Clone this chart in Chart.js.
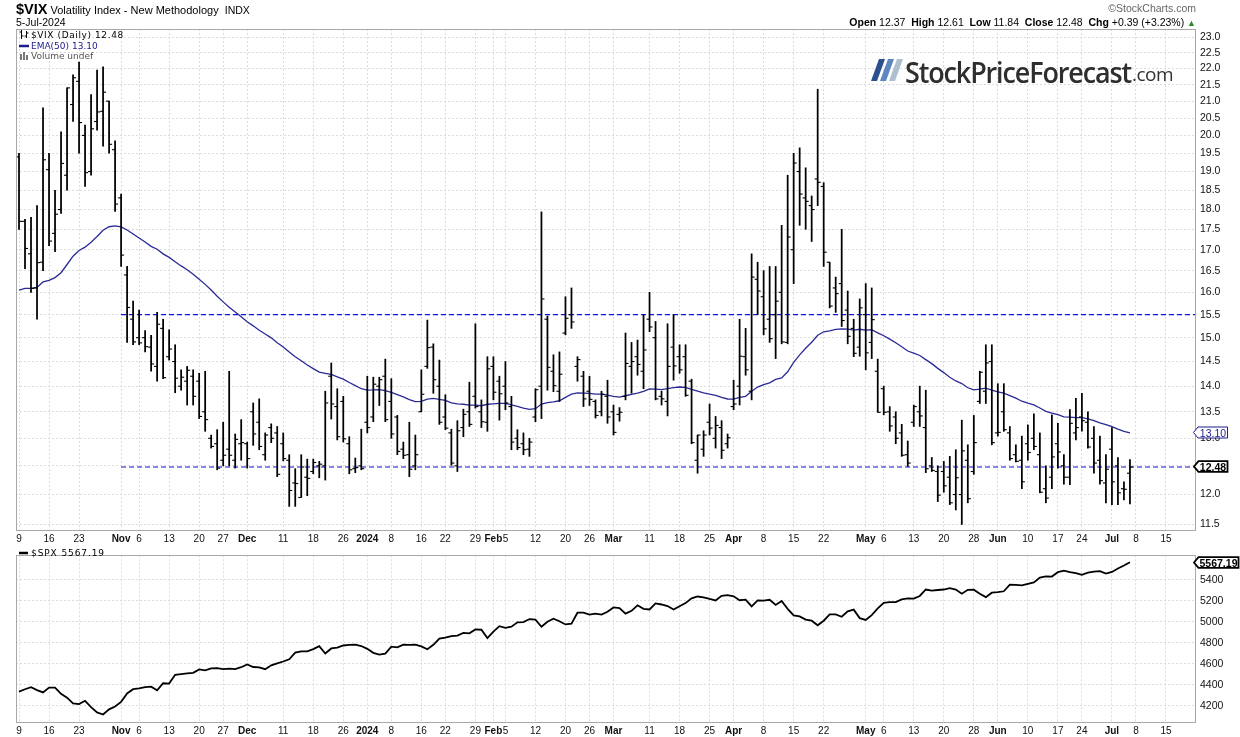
<!DOCTYPE html>
<html>
<head>
<meta charset="utf-8">
<script src="https://cdn.jsdelivr.net/npm/chart.js@4.4.1/dist/chart.umd.min.js"></script>
<style>
  body { margin: 0; background: #fff; width: 1240px; height: 737px; overflow: hidden; position: relative;
         font-family: "Liberation Sans", Arial, sans-serif; color: #000; }
  canvas { position: absolute; left: 0; }
  #c1 { top: 0; }
  #c2 { top: 545px; }
  .abs { position: absolute; white-space: nowrap; }
  #title { left: 16px; top: 1px; font-size: 11px; }
  #title b { font-size: 14.5px; }
  #date { left: 16px; top: 16px; font-size: 10.5px; }
  #sc { right: 44px; top: 2px; font-size: 10.5px; color: #666; }
  #ohlc { right: 44px; top: 16px; font-size: 10.5px; }
  #ohlc .up { color: #2a8a2a; font-size: 9px; }
  .leg { left: 19px; font-family: "DejaVu Sans", sans-serif; font-size: 9px; line-height: 10px; }
  .leg svg { vertical-align: -1px; margin-right: 2px; }
  #leg1 { top: 30px; letter-spacing: 0.6px; }
  #leg2 { top: 41px; color: #1c1c8c; }
  #leg3 { top: 51px; color: #555; }
  #leg4 { top: 548px; letter-spacing: 0.9px; }
  #logo { left: 871px; top: 56px; height: 30px; }
  #logoText { position: absolute; left: 34px; top: -4px; font-family: "Open Sans", sans-serif; font-weight: 600;
              font-size: 29px; letter-spacing: -1.2px; color: #2e2e2e; transform-origin: 0 0; }
  #logoCom { position: absolute; left: 261px; top: 5px; font-family: "Open Sans", sans-serif; font-size: 19px;
             color: #333; letter-spacing: -0.5px; }
  .tag { position: absolute; left: 1193px; }
</style>
</head>
<body>
<canvas id="c1" width="1240" height="546"></canvas>
<canvas id="c2" width="1240" height="192"></canvas>

<div id="title" class="abs"><b>$VIX</b> Volatility Index - New Methodology &nbsp;<span style="font-size:10.5px">INDX</span></div>
<div id="date" class="abs">5-Jul-2024</div>
<div id="sc" class="abs">&copy;StockCharts.com</div>
<div id="ohlc" class="abs"><b>Open</b> 12.37 &nbsp;<b>High</b> 12.61 &nbsp;<b>Low</b> 11.84 &nbsp;<b>Close</b> 12.48 &nbsp;<b>Chg</b> +0.39 (+3.23%) <span class="up">&#9650;</span></div>

<div id="leg1" class="abs leg"><svg width="10" height="9"><path d="M2.5 0V9M0.5 2H2.5M2.5 6H4.5M7.5 1V8M5.5 6H7.5M7.5 3H9.5" stroke="#000" stroke-width="1" fill="none"/></svg>$VIX (Daily) 12.48</div>
<div id="leg2" class="abs leg"><svg width="10" height="9"><path d="M0 5H10" stroke="#1c1c8c" stroke-width="2.5"/></svg>EMA(50) 13.10</div>
<div id="leg3" class="abs leg"><svg width="10" height="9"><path d="M1 3h2v6h-2zM4 1h2v8h-2zM7 4h2v5h-2z" fill="#777"/></svg>Volume undef</div>
<div id="leg4" class="abs leg"><svg width="10" height="9"><path d="M0 5H9" stroke="#000" stroke-width="2.5"/></svg>$SPX 5567.19</div>

<div id="logo" class="abs">
  <svg width="32" height="24" style="position:absolute;left:0;top:3px">
    <polygon points="8,0 14,0 6,22 0,22" fill="#2c4f8f"/>
    <polygon points="17,0 23,0 15,22 9,22" fill="#5f86c0"/>
    <polygon points="26,0 32,0 24,22 18,22" fill="#aebfd0"/>
  </svg>
  <span id="logoText">StockPriceForecast</span>
  <span id="logoCom">.com</span>
</div>

<svg id="tagEma" class="tag" width="36" height="13">
  <polygon points="0.5,6.5 5,1 34.5,1 34.5,12 5,12" fill="#fff" stroke="#1c1c8c" stroke-width="1"/>
  <text x="20" y="10.5" text-anchor="middle" font-family="Liberation Sans, Arial" font-size="10.5" fill="#1c1c8c">13.10</text>
</svg>
<svg id="tagClose" class="tag" width="36" height="13">
  <polygon points="1,6.5 5.5,1.2 34.5,1.2 34.5,11.8 5.5,11.8" fill="#fff" stroke="#000" stroke-width="1.8"/>
  <text x="20" y="10.5" text-anchor="middle" font-family="Liberation Sans, Arial" font-size="10.5" font-weight="bold" fill="#000">12.48</text>
</svg>
<svg id="tagSpx" class="tag" width="47" height="13">
  <polygon points="1,6.5 5.5,1.2 45.5,1.2 45.5,11.8 5.5,11.8" fill="#fff" stroke="#000" stroke-width="1.8"/>
  <text x="25.5" y="10.5" text-anchor="middle" font-family="Liberation Sans, Arial" font-size="10.5" font-weight="bold" fill="#000">5567.19</text>
</svg>

<script>
const FONT = '"Liberation Sans", Arial, sans-serif';

// trading calendar (index axis)
const holidays = ['2023-11-23', '2023-12-25', '2024-01-01', '2024-01-15', '2024-02-19',
                  '2024-03-29', '2024-05-27', '2024-06-19', '2024-07-04'];
function tradingDays(from, to) {
    const out = [];
    const d = new Date(from + 'T12:00:00Z');
    const end = new Date(to + 'T12:00:00Z');
    while (d <= end) {
        const s = d.toISOString().slice(0, 10);
        const wd = d.getUTCDay();
        if (wd !== 0 && wd !== 6 && !holidays.includes(s)) out.push(s);
        d.setUTCDate(d.getUTCDate() + 1);
    }
    return out;
}
const days = tradingDays('2023-10-09', '2024-07-22');

const tickLabels = [
    ['2023-10-09', '9'], ['2023-10-16', '16'], ['2023-10-23', '23'], ['2023-11-01', 'Nov'], ['2023-11-06', '6'],
    ['2023-11-13', '13'], ['2023-11-20', '20'], ['2023-11-27', '27'], ['2023-12-01', 'Dec'], ['2023-12-11', '11'],
    ['2023-12-18', '18'], ['2023-12-26', '26'], ['2024-01-02', '2024'], ['2024-01-08', '8'], ['2024-01-16', '16'],
    ['2024-01-22', '22'], ['2024-01-29', '29'], ['2024-02-01', 'Feb'], ['2024-02-05', '5'], ['2024-02-12', '12'],
    ['2024-02-20', '20'], ['2024-02-26', '26'], ['2024-03-01', 'Mar'], ['2024-03-11', '11'], ['2024-03-18', '18'],
    ['2024-03-25', '25'], ['2024-04-01', 'Apr'], ['2024-04-08', '8'], ['2024-04-15', '15'], ['2024-04-22', '22'],
    ['2024-05-01', 'May'], ['2024-05-06', '6'], ['2024-05-13', '13'], ['2024-05-20', '20'], ['2024-05-28', '28'],
    ['2024-06-03', 'Jun'], ['2024-06-10', '10'], ['2024-06-17', '17'], ['2024-06-24', '24'], ['2024-07-01', 'Jul'],
    ['2024-07-08', '8'], ['2024-07-15', '15']
];

const vixTicks = [11.5, 12.0, 12.5, 13.0, 13.5, 14.0, 14.5, 15.0, 15.5, 16.0, 16.5, 17.0,
                  17.5, 18.0, 18.5, 19.0, 19.5, 20.0, 20.5, 21.0, 21.5, 22.0, 22.5, 23.0];
const spxTicks = [4200, 4400, 4600, 4800, 5000, 5200, 5400];

// $VIX daily bars, 9-Oct-2023 .. 5-Jul-2024
const vixOpen = [
    19.40, 17.70, 16.90, 16.10, 16.70, 19.05, 17.40, 18.00, 18.90, 20.90,
    21.60, 20.00, 19.00, 20.40, 20.70, 21.00, 19.60, 18.30, 16.40, 15.40,
    15.00, 15.00, 14.80, 14.40, 15.20, 14.60, 14.50, 14.00, 14.10, 14.20,
    14.10, 13.50, 13.00, 12.90, 12.60, 12.80, 12.60, 12.90, 12.90, 13.50,
    13.30, 12.70, 13.20, 13.10, 12.90, 12.60, 12.20, 11.95, 12.30, 12.40,
    12.50, 12.50, 14.20, 13.60, 13.70, 12.90, 12.45, 12.50, 13.30, 13.40,
    14.00, 14.20, 13.70, 13.40, 12.80, 12.70, 12.50, 13.50, 14.40, 14.80,
    14.00, 13.40, 13.10, 12.50, 13.20, 13.50, 13.80, 13.50, 13.30, 14.40,
    14.10, 14.00, 13.60, 13.00, 12.90, 12.80, 13.40, 14.00, 15.40, 14.30,
    13.90, 15.10, 15.50, 14.40, 14.20, 13.90, 13.70, 13.50, 13.80, 13.50,
    13.45, 13.80, 14.40, 14.60, 14.30, 15.40, 15.00, 13.80, 13.70, 14.80,
    14.60, 14.60, 14.10, 12.60, 12.80, 13.30, 13.00, 13.20, 12.90, 13.60,
    14.00, 14.60, 13.90, 16.30, 15.90, 15.40, 15.50, 16.00, 14.90, 17.00,
    19.00, 18.30, 18.10, 18.80, 18.60, 16.70, 16.10, 16.20, 15.60, 15.20,
    14.80, 15.50, 14.90, 14.30, 13.95, 13.50, 13.40, 13.10, 12.70, 13.30,
    13.50, 13.20, 12.50, 12.40, 12.40, 12.30, 12.00, 12.00, 12.60, 12.40,
    13.70, 13.90, 14.50, 13.10, 13.50, 13.10, 12.70, 12.60, 12.90, 13.00,
    12.70, 12.10, 12.30, 12.90, 12.50, 12.30, 13.10, 13.40, 13.30, 13.00,
    12.60, 12.20, 12.80, 12.50, 12.10, 12.37
];
const vixHigh = [
    19.50, 17.75, 17.80, 18.10, 20.80, 19.50, 18.50, 20.10, 21.40, 21.80,
    22.20, 20.30, 21.20, 21.95, 22.05, 21.00, 19.85, 18.40, 16.60, 15.80,
    15.60, 15.15, 15.05, 15.55, 15.40, 15.17, 14.85, 14.33, 14.40, 14.33,
    14.26, 14.30, 13.06, 13.16, 13.30, 14.30, 13.08, 13.35, 12.93, 13.67,
    13.75, 13.10, 13.27, 13.22, 13.10, 12.70, 12.45, 12.70, 12.62, 12.62,
    12.58, 13.90, 14.47, 13.95, 13.80, 13.03, 12.64, 13.17, 14.20, 14.18,
    14.18, 14.55, 14.15, 13.43, 12.93, 13.30, 13.06, 14.33, 15.38, 14.87,
    14.53, 13.83, 13.17, 13.33, 13.55, 14.08, 15.30, 13.73, 14.60, 14.60,
    14.20, 14.50, 13.80, 13.16, 13.10, 13.00, 13.95, 17.94, 15.47, 14.64,
    14.70, 15.90, 16.10, 14.60, 14.30, 14.20, 13.73, 13.90, 14.12, 13.63,
    13.58, 15.10, 14.90, 14.95, 15.50, 16.00, 15.35, 13.90, 15.30, 15.50,
    14.85, 14.85, 14.14, 13.06, 13.14, 13.65, 13.41, 13.33, 13.08, 14.12,
    15.40, 15.20, 16.90, 16.70, 16.50, 16.60, 16.60, 17.60, 18.90, 19.50,
    19.65, 19.10, 18.35, 21.36, 18.70, 16.70, 16.35, 17.50, 16.03, 15.40,
    15.85, 16.20, 16.10, 14.55, 14.00, 13.60, 13.50, 13.26, 12.95, 13.63,
    14.00, 13.92, 12.65, 12.50, 12.58, 12.67, 12.79, 13.34, 12.88, 13.43,
    14.30, 14.85, 14.85, 14.05, 14.05, 13.22, 12.88, 13.04, 13.25, 13.46,
    13.10, 12.50, 13.44, 13.28, 12.70, 13.54, 13.76, 13.86, 13.50, 13.22,
    13.04, 12.70, 13.20, 12.65, 12.22, 12.61
];
const vixLow = [
    17.50, 16.55, 16.00, 15.40, 16.50, 17.10, 16.95, 17.90, 18.50, 20.40,
    19.50, 18.60, 18.90, 20.15, 19.70, 19.50, 17.95, 16.60, 14.90, 14.85,
    14.85, 14.70, 14.30, 14.10, 14.15, 14.53, 13.87, 13.92, 13.63, 13.63,
    13.37, 13.13, 12.82, 12.43, 12.50, 12.50, 12.46, 12.60, 12.46, 12.87,
    12.79, 12.60, 12.92, 12.31, 12.59, 11.80, 11.80, 11.95, 11.98, 12.36,
    12.29, 12.25, 13.36, 12.97, 12.93, 12.36, 12.38, 12.43, 13.10, 13.31,
    13.62, 13.31, 13.00, 12.70, 12.63, 12.31, 12.43, 13.50, 14.36, 13.86,
    13.26, 13.16, 12.51, 12.40, 13.03, 13.22, 13.57, 13.20, 13.13, 13.73,
    13.34, 13.54, 12.79, 12.79, 12.70, 12.67, 13.31, 13.37, 13.92, 13.89,
    13.70, 15.06, 15.20, 14.10, 13.60, 13.62, 13.38, 13.42, 13.28, 13.06,
    13.32, 13.73, 13.86, 14.22, 13.95, 15.13, 13.73, 13.63, 13.42, 14.12,
    14.26, 13.80, 12.90, 12.37, 12.67, 13.06, 12.82, 12.63, 12.82, 13.54,
    13.63, 14.22, 13.73, 15.50, 15.06, 14.90, 14.56, 14.87, 14.87, 16.20,
    17.60, 17.50, 17.20, 18.10, 16.60, 15.65, 15.55, 15.24, 14.87, 14.60,
    14.61, 14.33, 14.56, 13.49, 13.44, 13.13, 12.90, 12.67, 12.49, 13.22,
    13.22, 12.38, 12.40, 11.88, 12.04, 11.83, 11.74, 11.50, 11.86, 12.35,
    13.66, 13.66, 12.88, 13.04, 13.13, 12.60, 12.57, 12.10, 12.60, 12.79,
    12.03, 11.86, 12.10, 12.46, 12.18, 12.17, 12.97, 13.13, 12.82, 12.37,
    12.18, 11.86, 11.83, 11.83, 11.91, 11.84
];
const vixClose = [
    17.70, 17.03, 16.09, 16.69, 19.32, 17.21, 17.88, 19.22, 21.40, 21.71,
    20.37, 18.97, 20.19, 20.68, 21.27, 19.75, 18.14, 16.87, 15.66, 14.91,
    14.89, 14.81, 14.45, 15.29, 14.17, 14.76, 14.16, 14.18, 14.32, 13.80,
    13.41, 13.35, 12.85, 12.46, 12.69, 12.69, 12.98, 12.92, 12.63, 13.08,
    12.85, 13.06, 13.00, 12.35, 12.63, 12.07, 12.19, 12.48, 12.28, 12.56,
    12.53, 13.67, 13.65, 13.03, 12.99, 12.43, 12.47, 12.45, 13.20, 14.04,
    14.13, 13.35, 13.08, 12.76, 12.69, 12.44, 12.70, 13.84, 14.79, 14.13,
    13.30, 13.19, 12.55, 13.14, 13.45, 13.26, 13.60, 13.31, 14.35, 13.88,
    13.85, 13.67, 12.93, 12.83, 12.79, 12.93, 13.93, 15.85, 14.38, 14.01,
    14.24, 15.42, 15.34, 14.54, 13.75, 13.74, 13.43, 13.84, 13.40, 13.11,
    13.49, 14.46, 14.50, 14.44, 14.74, 15.23, 13.75, 13.75, 14.40, 14.41,
    14.33, 13.82, 12.92, 13.06, 13.06, 13.19, 13.24, 12.78, 13.01, 13.65,
    14.61, 14.33, 16.35, 16.03, 15.19, 14.98, 15.80, 14.91, 17.31, 19.23,
    18.40, 18.21, 18.00, 18.71, 16.94, 15.69, 15.97, 15.37, 15.03, 14.67,
    15.65, 14.68, 15.39, 13.49, 13.49, 13.23, 13.00, 12.69, 12.55, 13.60,
    13.42, 12.45, 12.42, 11.99, 12.15, 11.86, 12.29, 12.77, 11.93, 12.92,
    14.28, 14.47, 12.92, 13.11, 13.16, 12.63, 12.58, 12.22, 12.74, 12.85,
    12.04, 11.94, 12.66, 12.75, 12.30, 13.28, 13.20, 13.33, 12.84, 12.55,
    12.24, 12.44, 12.22, 12.03, 12.09, 12.48
];

// $SPX daily close, same dates
const spxClose = [
    4335.66, 4358.24, 4376.95, 4349.61, 4327.78, 4373.63, 4373.20, 4314.60, 4278.00, 4224.16,
    4217.04, 4247.68, 4186.77, 4137.23, 4117.37, 4166.82, 4193.80, 4237.86, 4317.78, 4358.34,
    4365.98, 4378.38, 4382.78, 4347.35, 4415.24, 4411.55, 4495.70, 4502.88, 4508.24, 4514.02,
    4547.38, 4538.19, 4556.62, 4559.34, 4550.43, 4554.89, 4550.58, 4567.80, 4594.63, 4569.78,
    4567.18, 4549.34, 4585.59, 4604.37, 4622.44, 4643.70, 4707.09, 4719.55, 4719.19, 4740.56,
    4768.37, 4698.35, 4746.75, 4754.63, 4774.75, 4781.58, 4783.35, 4769.83, 4742.83, 4704.81,
    4688.68, 4697.24, 4763.54, 4756.50, 4783.45, 4780.24, 4783.83, 4765.98, 4739.21, 4780.94,
    4839.81, 4850.43, 4864.60, 4868.55, 4894.16, 4890.97, 4927.93, 4924.97, 4845.65, 4906.19,
    4958.61, 4942.81, 4954.23, 4995.06, 4997.91, 5026.61, 5021.84, 4953.17, 5000.62, 5029.73,
    5005.57, 4975.51, 4981.80, 5087.03, 5088.80, 5069.53, 5078.18, 5069.76, 5096.27, 5137.08,
    5130.95, 5078.65, 5104.76, 5157.36, 5123.69, 5117.94, 5175.27, 5165.31, 5150.48, 5117.09,
    5149.42, 5178.51, 5224.62, 5241.53, 5234.18, 5218.19, 5203.58, 5248.49, 5254.35, 5243.77,
    5205.81, 5211.49, 5147.21, 5204.34, 5202.39, 5209.91, 5160.64, 5199.06, 5123.41, 5061.82,
    5051.41, 5022.21, 5011.12, 4967.23, 5010.60, 5070.55, 5071.63, 5048.42, 5099.96, 5116.17,
    5035.69, 5018.39, 5064.20, 5127.79, 5180.74, 5187.70, 5187.67, 5214.08, 5222.68, 5221.42,
    5246.68, 5308.15, 5297.10, 5303.27, 5308.13, 5321.41, 5307.01, 5267.84, 5304.72, 5306.04,
    5266.95, 5235.48, 5277.51, 5283.40, 5291.34, 5354.03, 5352.96, 5346.99, 5360.79, 5375.32,
    5421.03, 5433.74, 5431.60, 5473.23, 5487.03, 5473.17, 5464.62, 5447.87, 5469.30, 5477.90,
    5482.87, 5460.48, 5475.09, 5509.01, 5537.02, 5567.19
];

// drawn levels
const resistLevel = 15.5;
const supportLevel = 12.48;
const levelStart = '2023-11-01';

// EMA(50) of the close, seeded with the value read at the left edge
const emaPeriod = 50;
const emaStart = 16.05;
const ema = [];
vixClose.forEach((c, i) => {
    if (i === 0) { ema.push(emaStart); return; }
    const k = 2 / (emaPeriod + 1);
    ema.push(ema[i - 1] + k * (c - ema[i - 1]));
});

// axis window
const xMin = -0.5, xMax = 196;
const vixMin = 11.41, vixMax = 23.27;
const spxMin = 4046, spxMax = 5634;

const idx = vixClose.map((_, i) => i);
const tickIdx = tickLabels.map(t => days.indexOf(t[0]));
const tickText = {};
tickLabels.forEach((t, k) => { tickText[tickIdx[k]] = t[1]; });
const isBold = s => !!s && !/^\d{1,2}$/.test(s);

function xAxis(h) {
    return {
        type: 'linear', min: xMin, max: xMax, offset: false,
        afterBuildTicks: s => { s.ticks = tickIdx.map(v => ({ value: v })); },
        afterFit: s => { s.height = h; },
        grid: { color: '#dcdcdc', drawTicks: false, offset: false },
        border: { display: false, dash: [2, 2] },
        ticks: {
            autoSkip: false, maxRotation: 0, padding: 3, color: '#111',
            font: c => ({ family: FONT, size: 10, weight: c.tick && isBold(tickText[c.tick.value]) ? 'bold' : 'normal' }),
            callback: v => tickText[v] || ''
        }
    };
}

const framePlugin = {
    id: 'frame',
    afterDraw(chart) {
        const { ctx, chartArea: a } = chart;
        ctx.save();
        ctx.strokeStyle = '#a8a8a8';
        ctx.lineWidth = 1;
        ctx.strokeRect(Math.round(a.left) + 0.5, Math.round(a.top) + 0.5,
                       Math.round(a.right - a.left) - 1, Math.round(a.bottom - a.top));
        ctx.restore();
    }
};

function placeTag(id, chart, value) {
    const y = chart.scales.y.getPixelForValue(value) + chart.canvas.offsetTop;
    document.getElementById(id).style.top = (y - 6.5) + 'px';
}

const levelIdx = days.indexOf(levelStart);

new Chart(document.getElementById('c1'), {
    type: 'line',
    data: {
        datasets: [
            { type: 'line', data: idx.map(i => ({ x: i, y: ema[i] })), borderColor: '#2a2a96', borderWidth: 1.3,
              pointRadius: 0, order: 3 },
            { type: 'line', data: [{ x: levelIdx, y: resistLevel }, { x: xMax, y: resistLevel }],
              borderColor: '#1010e0', borderWidth: 1.2, borderDash: [5, 3], pointRadius: 0, order: 4 },
            { type: 'line', data: [{ x: levelIdx, y: supportLevel }, { x: xMax, y: supportLevel }],
              borderColor: '#1010c8', borderWidth: 1.2, borderDash: [5, 3], pointRadius: 0, order: 4 },
            { type: 'bar', data: idx.map(i => ({ x: i, y: [vixLow[i], vixHigh[i]] })), backgroundColor: '#000',
              borderWidth: 0, barThickness: 1.1, grouped: false, order: 1 },
            { type: 'scatter', data: idx.map(i => ({ x: i, y: vixOpen[i] })), pointStyle: 'dash', pointRotation: 180,
              pointRadius: 3, pointBorderColor: '#000', pointBorderWidth: 1.1, order: 0 },
            { type: 'scatter', data: idx.map(i => ({ x: i, y: vixClose[i] })), pointStyle: 'dash', pointRotation: 0,
              pointRadius: 3, pointBorderColor: '#000', pointBorderWidth: 1.1, order: 0 }
        ]
    },
    options: {
        responsive: false, animation: false, events: [],
        layout: { padding: { left: 16, top: 29, right: 0, bottom: 0 } },
        plugins: { legend: { display: false }, tooltip: { enabled: false } },
        scales: {
            x: xAxis(16),
            y: {
                type: 'logarithmic', position: 'right', min: vixMin, max: vixMax,
                afterBuildTicks: s => { s.ticks = vixTicks.map(v => ({ value: v })); },
                afterFit: s => { s.width = 44; },
                grid: { color: '#dcdcdc', drawTicks: false },
                border: { display: false, dash: [2, 2] },
                ticks: { padding: 4, color: '#111', font: { family: FONT, size: 10.5 }, callback: v => v.toFixed(1) }
            }
        }
    },
    plugins: [framePlugin, {
        id: 'tags',
        afterDraw(chart) {
            placeTag('tagEma', chart, ema[ema.length - 1]);
            placeTag('tagClose', chart, vixClose[vixClose.length - 1]);
        }
    }]
});

new Chart(document.getElementById('c2'), {
    type: 'line',
    data: {
        datasets: [
            { data: idx.map(i => ({ x: i, y: spxClose[i] })), borderColor: '#000', borderWidth: 1.8,
              pointRadius: 0, tension: 0 }
        ]
    },
    options: {
        responsive: false, animation: false, events: [],
        layout: { padding: { left: 16, top: 1, right: 0, bottom: 0 } },
        plugins: { legend: { display: false }, tooltip: { enabled: false } },
        scales: {
            x: xAxis(15),
            y: {
                type: 'linear', position: 'right', min: spxMin, max: spxMax,
                afterBuildTicks: s => { s.ticks = spxTicks.map(v => ({ value: v })); },
                afterFit: s => { s.width = 44; },
                grid: { color: '#dcdcdc', drawTicks: false },
                border: { display: false, dash: [2, 2] },
                ticks: { padding: 4, color: '#111', font: { family: FONT, size: 10.5 }, callback: v => String(v) }
            }
        }
    },
    plugins: [framePlugin, {
        id: 'tagSpx',
        afterDraw(chart) { placeTag('tagSpx', chart, spxClose[spxClose.length - 1]); }
    }]
});

// squeeze the logo word to its width in the picture
const logoText = document.getElementById('logoText');
logoText.style.transform = `scaleX(${226 / logoText.getBoundingClientRect().width})`;
</script>
</body>
</html>
